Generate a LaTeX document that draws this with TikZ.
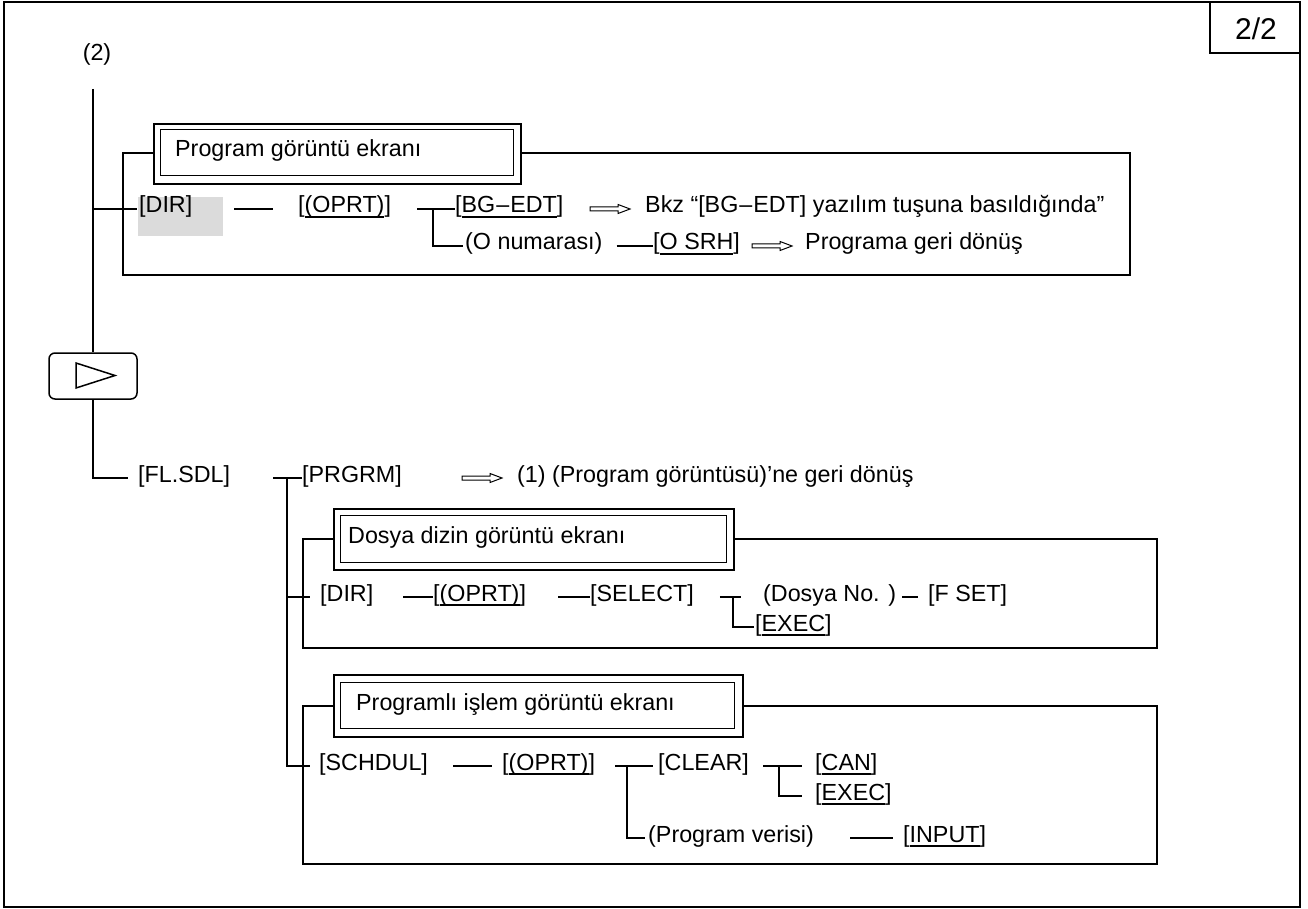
\documentclass[tikz,border=0pt]{standalone}
\usepackage{fontspec}
\setmainfont{Liberation Sans}
\newcommand\ulx[1]{\setbox0\hbox{#1}\rlap{\rule[-0.2em]{\wd0}{1.6pt}}\box0}
\tikzset{
  txt/.style={anchor=west, inner sep=0pt, text height=0.9em, text depth=0.1em, font=\fontsize{23.3}{28}\selectfont},
  ln/.style={line width=1.5pt},
  bigbox/.style={line width=1.2pt},
  hout/.style={draw, line width=2pt, fill=white, inner sep=0pt, anchor=north west},
  hin/.style={line width=1pt},
  harrow/.pic={\draw[line width=1pt, line join=miter] (0,-2)--(28,-2)--(28,-4.5)--(40,0)--(28,4.5)--(28,2)--(0,2)--cycle;}
}
\begin{document}
\begin{tikzpicture}[x=1pt,y=-1pt]
\useasboundingbox (0,0) rectangle (1308,909);
% frame and page number
\draw[line width=2pt] (4,2) rectangle (1300,907);
\draw[line width=1.5pt] (1210,2) -- (1210,53) -- (1300,53);
\node[inner sep=0pt, font=\fontsize{30}{34}\selectfont] (pg) at (1256,29) {2/2};
\node[txt, anchor=center] (two) at (97,57) {(2)};
\coordinate (top) at (93,89);

% ---------- section 1 ----------
\draw[bigbox] (123,153) rectangle (1130,275);
\node[hout, minimum width=367pt, minimum height=60pt] (h1) at (153,123) {};
\draw[hin] (160,130) rectangle (513,176);
\node[txt] (h1t) at (175,153) {Program görüntü ekranı};

\fill[black!14] (138,197) rectangle (223,236);
\node[txt] (dirA) at (139,209) {[DIR]};
\draw[ln, shorten >=2pt] (top |- dirA.west) -- (dirA.west);
\node[txt] (oprtA) at (298,209) {[\ulx{(OPRT)}]};
\draw[ln, shorten <=42pt, shorten >=25pt] (dirA.east) -- (oprtA.west);
\node[txt] (bgA) at (455,209) {[\ulx{BG\kern1pt–\kern1pt EDT}]};
\coordinate (jA) at (433,209);
\draw[ln, shorten <=26pt] (oprtA.east) -- (bgA.west);
\pic at (590,209) {harrow};
\node[txt] (bkz) at (645,209) {Bkz “[BG\kern1pt–\kern1pt EDT] yazılım tuşuna basıldığında”};
\node[txt] (oA) at (465,246) {(O numarası)};
\draw[ln, shorten >=2pt] (jA) |- (oA.west);
\node[txt] (osrh) at (653,246) {[\ulx{O SRH}]};
\draw[ln, shorten <=14pt] (oA.east) -- (osrh.west);
\pic at (752,246) {harrow};
\node[txt] (prg) at (805,246) {Programa geri dönüş};

% ---------- soft key ----------
\node[draw, rounded corners=6pt, line width=1.5pt, minimum width=88pt, minimum height=46pt, inner sep=0pt] (play) at (93,376) {};
\draw[line width=1.5pt, line join=miter] (76,363) -- (115,375.5) -- (76,388) -- cycle;
\draw[ln] (top) -- (play.north);

% ---------- FL.SDL ----------
\node[txt] (fl) at (138,478) {[FL.SDL]};
\draw[ln, shorten >=10pt] (play.south) |- (fl.west);
\node[txt] (prgrm) at (302,478) {[PRGRM]};
\coordinate (jC) at (287,478);
\draw[ln, shorten <=43pt] (fl.east) -- (prgrm.west);
\pic at (462,478) {harrow};
\node[txt] (ret) at (517,478) {(1) (Program görüntüsü)’ne geri dönüş};

% ---------- section 2 ----------
\draw[bigbox] (303,539) rectangle (1157,648);
\node[hout, minimum width=400pt, minimum height=61pt] (h2) at (333,508) {};
\draw[hin] (340,515) rectangle (726,562);
\node[txt] (h2t) at (348,539) {Dosya dizin görüntü ekranı};

\node[txt] (dirD) at (320,597) {[DIR]};
\draw[ln, shorten >=10pt] (jC |- dirD.west) -- (dirD.west);
\node[txt] (oprtD) at (433,597) {[\ulx{(OPRT)}]};
\draw[ln, shorten <=30pt] (dirD.east) -- (oprtD.west);
\node[txt] (sel) at (590,597) {[SELECT]};
\draw[ln, shorten <=32pt] (oprtD.east) -- (sel.west);
\coordinate (jD) at (733,597);
\node[txt] (dno) at (763,597) {(Dosya No. )};
\draw[ln, shorten <=26pt, shorten >=22pt] (sel.east) -- (dno.west);
\node[txt] (exD) at (755,627) {[\ulx{EXEC}]};
\draw[ln, shorten >=1pt] (jD) |- (exD.west);
\node[txt] (fset) at (928,597) {[F SET]};
\draw[ln, shorten <=6pt, shorten >=10pt] (dno.east) -- (fset.west);

% ---------- section 3 ----------
\draw[bigbox] (303,706) rectangle (1157,864);
\node[hout, minimum width=409pt, minimum height=62pt] (h3) at (333,674) {};
\draw[hin] (340,682) rectangle (734,728);
\node[txt] (h3t) at (356,706) {Programlı işlem görüntü ekranı};

\node[txt] (sch) at (319,766) {[SCHDUL]};
\draw[ln, shorten >=9pt] (jC) |- (sch.west);
\node[txt] (oprtF) at (502,766) {[\ulx{(OPRT)}]};
\draw[ln, shorten <=25pt, shorten >=10pt] (sch.east) -- (oprtF.west);
\node[txt] (clr) at (658,766) {[CLEAR]};
\coordinate (jF) at (627,766);
\draw[ln, shorten <=20pt, shorten >=5pt] (oprtF.east) -- (clr.west);
\node[txt] (pv) at (648,838) {(Program verisi)};
\draw[ln, shorten >=3pt] (jF) |- (pv.west);
\node[txt] (can) at (815,766) {[\ulx{CAN}]};
\coordinate (jG) at (779,766);
\draw[ln, shorten <=14pt, shorten >=13pt] (clr.east) -- (can.west);
\node[txt] (exG) at (815,796) {[\ulx{EXEC}]};
\draw[ln, shorten >=13pt] (jG) |- (exG.west);
\node[txt] (inp) at (903,838) {[\ulx{INPUT}]};
\draw[ln, shorten <=36pt, shorten >=10pt] (pv.east) -- (inp.west);
\end{tikzpicture}
\end{document}
